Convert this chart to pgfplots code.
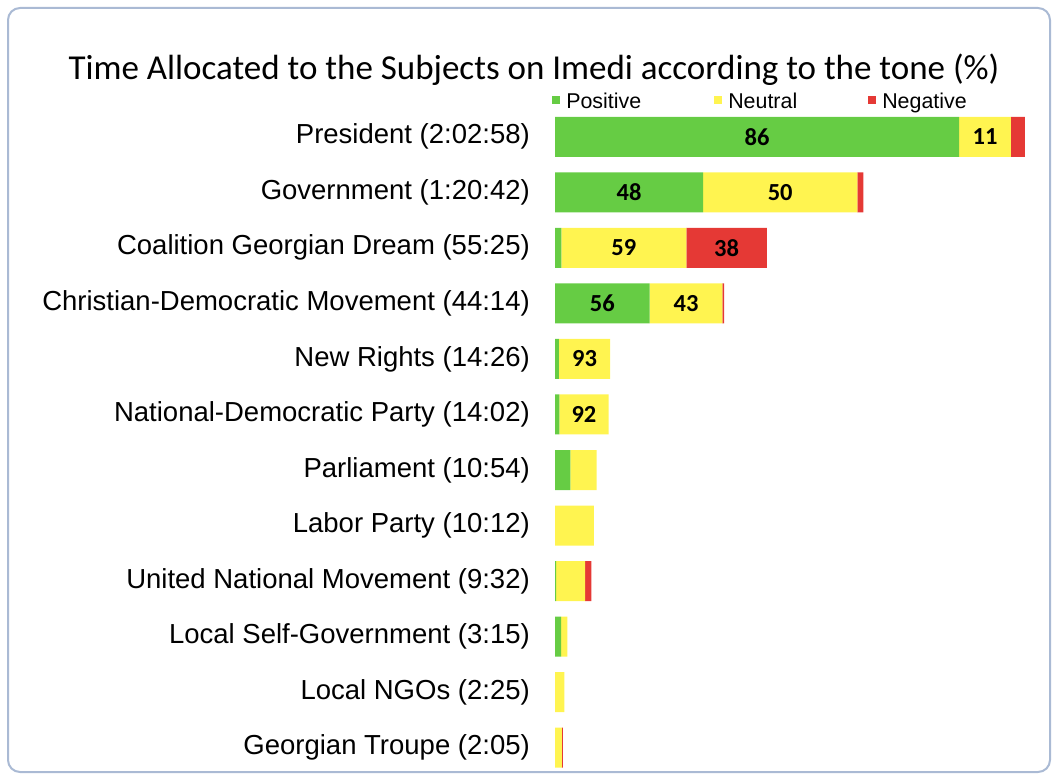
\documentclass[border=0pt]{standalone}
\usepackage{fontspec}
\setmainfont{Liberation Sans}
\newfontfamily\calibri{Carlito}
\usepackage{pgfplots}
\usepackage{pgfplotstable}
\pgfplotsset{compat=1.18}

\definecolor{posgreen}{RGB}{102,204,68}
\definecolor{neuyellow}{RGB}{255,244,80}
\definecolor{negred}{RGB}{229,57,53}
\definecolor{boxframe}{RGB}{170,186,212}

% minutes of airtime per tone (segment lengths), plus the printed percentages
\pgfplotstableread{
pos    neu    neg   lp  ln  lg
105.75 13.53  3.69  86  11  {}
38.74  40.35  1.61  48  50  {}
1.66   32.70  21.06 {}  59  38
24.77  19.02  0.44  56  43  {}
1.01   13.42  0     {}  93  {}
1.12   12.91  0     {}  92  {}
4.03   6.87   0     {}  {}  {}
0      10.20  0     {}  {}  {}
0.29   7.62   1.62  {}  {}  {}
1.60   1.65   0     {}  {}  {}
0      2.42   0     {}  {}  {}
0      1.80   0.28  {}  {}  {}
}\imedi

\begin{document}
\begin{tikzpicture}[x=1pt,y=1pt]
\path[use as bounding box] (0,0) rectangle (1056,776);
\draw[boxframe, line width=2pt, rounded corners=12pt] (8,4) rectangle (1050,768);
\node[font=\calibri\fontsize{35}{40}\selectfont] at (534,706)
  {Time Allocated to the Subjects on Imedi according to the tone (\%)};
\begin{axis}[
  at={(555pt,0.5pt)}, anchor=south west,
  scale only axis, width=485pt, height=666.5pt,
  xmin=0, xmax=126.9, ymin=-0.5, ymax=11.5,
  y dir=reverse,
  xbar stacked, bar width=40pt,
  hide x axis,
  axis line style={draw=none},
  ytick style={draw=none},
  ytick={0,...,11},
  yticklabels={President (2:02:58), Government (1:20:42),
    Coalition Georgian Dream (55:25), Christian-Democratic Movement (44:14),
    New Rights (14:26), National-Democratic Party (14:02), Parliament (10:54),
    Labor Party (10:12), United National Movement (9:32),
    Local Self-Government (3:15), Local NGOs (2:25), Georgian Troupe (2:05)},
  yticklabel style={font=\fontsize{27.5}{30}\selectfont, anchor=east, inner sep=0pt, xshift=-25pt},
  legend columns=3,
  legend style={at={(-0.006,1.0120)}, anchor=west, draw=none, fill=none,
    font=\fontsize{21.4}{24}\selectfont, inner sep=0pt, nodes={inner sep=0pt},
    /tikz/every odd column/.append style={column sep=6pt}},
  legend image code/.code={\fill[#1,draw=none] (0pt,-3pt) rectangle (8pt,5pt);},
  nodes near coords,
  point meta=explicit symbolic,
  every node near coord/.append style={font=\calibri\bfseries\fontsize{24.5}{27}\selectfont, text=black},
]
\addplot[fill=posgreen, draw=none] table[x=pos, y expr=\coordindex, meta=lp] {\imedi};
\addlegendentry{\makebox[148pt][l]{Positive}}
\addplot[fill=neuyellow, draw=none] table[x=neu, y expr=\coordindex, meta=ln] {\imedi};
\addlegendentry{\makebox[140pt][l]{Neutral}}
\addplot[fill=negred, draw=none] table[x=neg, y expr=\coordindex, meta=lg] {\imedi};
\addlegendentry{Negative}
\end{axis}
\end{tikzpicture}
\end{document}
